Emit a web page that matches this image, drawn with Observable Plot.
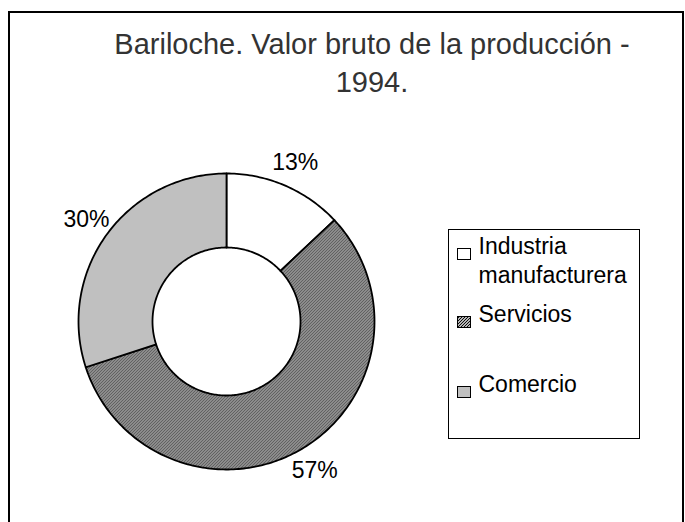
<!DOCTYPE html>
<html>
<head>
<meta charset="utf-8">
<script src="https://cdn.jsdelivr.net/npm/d3@7"></script>
<script src="https://cdn.jsdelivr.net/npm/@observablehq/plot@0.6"></script>
<style>
  html, body { margin: 0; padding: 0; background: white; }
  body { font-family: "Liberation Sans", Arial, sans-serif; }
  #wrap { position: relative; width: 685px; height: 522px; overflow: hidden; background: white; }
  #frame { position: absolute; left: 8px; top: 11px; width: 676px; height: 620px; border: 2px solid #000; box-sizing: border-box; }
  .title { position: absolute; left: 72px; width: 600px; text-align: center; font-size: 29px; line-height: 38px; color: #333; white-space: nowrap; }
  #chart { position: absolute; left: 0; top: 0; }
  #legend { position: absolute; left: 448px; top: 229px; width: 192px; height: 210px; border: 1.5px solid #000; box-sizing: border-box; background: white; }
  .lg-text { position: absolute; font-size: 23px; line-height: 29px; color: #000; white-space: nowrap; }
  .lg-sw { position: absolute; }
</style>
</head>
<body>
<svg width="0" height="0" style="position:absolute">
  <defs>
    <pattern id="hatch" patternUnits="userSpaceOnUse" width="3" height="3">
      <rect width="3" height="3" fill="#ffffff"></rect>
      <path d="M-1,1 L1,-1 M0,3 L3,0 M2,4 L4,2" stroke="#000" stroke-width="1.1"></path>
    </pattern>
  </defs>
</svg>
<div id="wrap">
  <div id="frame"></div>
  <div id="chart"></div>
  <div id="legend"></div>
</div>
<script>
// ---- data ----
const categories = ["Industria manufacturera", "Servicios", "Comercio"];
const shares = [13, 57, 30];
const shareLabels = ["13%", "57%", "30%"];
const titleLines = ["Bariloche. Valor bruto de la producción -", "1994."];
const legendLines = [["Industria", "manufacturera"], ["Servicios"], ["Comercio"]];

// ---- styles ----
const sliceFills = ["#ffffff", "url(#hatch)", "#c0c0c0"];
const innerRatio = 0.5;
const labelRadius = 1.17;

// ---- geometry from the pie layout ----
const arcs = d3.pie().sort(null)(shares);
const ringPoints = [];
arcs.forEach((a, i) => {
  const cat = categories[i];
  const steps = Math.max(2, Math.ceil((a.endAngle - a.startAngle) * 180 / Math.PI));
  for (let s = 0; s <= steps; s++) {
    const t = a.startAngle + (a.endAngle - a.startAngle) * s / steps;
    ringPoints.push({cat, x: Math.sin(t), y: Math.cos(t)});
  }
  for (let s = steps; s >= 0; s--) {
    const t = a.startAngle + (a.endAngle - a.startAngle) * s / steps;
    ringPoints.push({cat, x: innerRatio * Math.sin(t), y: innerRatio * Math.cos(t)});
  }
});
const labelData = arcs.map((a, i) => {
  const m = (a.startAngle + a.endAngle) / 2;
  return {text: shareLabels[i], x: labelRadius * Math.sin(m), y: labelRadius * Math.cos(m)};
});

const plot = Plot.plot({
  width: 685,
  height: 522,
  marginLeft: 78,
  marginRight: 311,
  marginTop: 173,
  marginBottom: 53,
  x: {domain: [-1, 1], axis: null},
  y: {domain: [-1, 1], axis: null},
  color: {type: "ordinal", domain: categories, range: sliceFills},
  style: {background: "transparent", fontFamily: "'Liberation Sans', Arial, sans-serif"},
  marks: [
    Plot.line(ringPoints, {x: "x", y: "y", z: "cat", fill: "cat", stroke: "#000", strokeWidth: 1.8, curve: "linear-closed", strokeLinejoin: "round"}),
    Plot.text(labelData, {x: "x", y: "y", text: "text", fontSize: 23, fill: "#000"})
  ]
});
document.getElementById("chart").appendChild(plot);

// ---- title ----
const wrap = document.getElementById("wrap");
titleLines.forEach((t, i) => {
  const d = document.createElement("div");
  d.className = "title";
  d.style.top = (25 + 38 * i) + "px";
  d.textContent = t;
  wrap.appendChild(d);
});

// ---- legend ----
const legend = document.getElementById("legend");
const itemTops = [2, 70, 140];
const ns = "http://www.w3.org/2000/svg";
legendLines.forEach((lines, i) => {
  const txt = document.createElement("div");
  txt.className = "lg-text";
  txt.style.left = "29.5px";
  txt.style.top = itemTops[i] + "px";
  txt.innerHTML = lines.join("<br>");
  legend.appendChild(txt);
  const sw = document.createElementNS(ns, "svg");
  sw.setAttribute("class", "lg-sw");
  sw.setAttribute("width", "14");
  sw.setAttribute("height", "12");
  sw.style.left = "8px";
  sw.style.top = (itemTops[i] + 15.5) + "px";
  const r = document.createElementNS(ns, "rect");
  r.setAttribute("x", "0.5"); r.setAttribute("y", "0.5");
  r.setAttribute("width", "13"); r.setAttribute("height", "11");
  r.setAttribute("fill", sliceFills[i]);
  r.setAttribute("stroke", "#000");
  r.setAttribute("stroke-width", "1");
  sw.appendChild(r);
  legend.appendChild(sw);
});
</script>
</body>
</html>
